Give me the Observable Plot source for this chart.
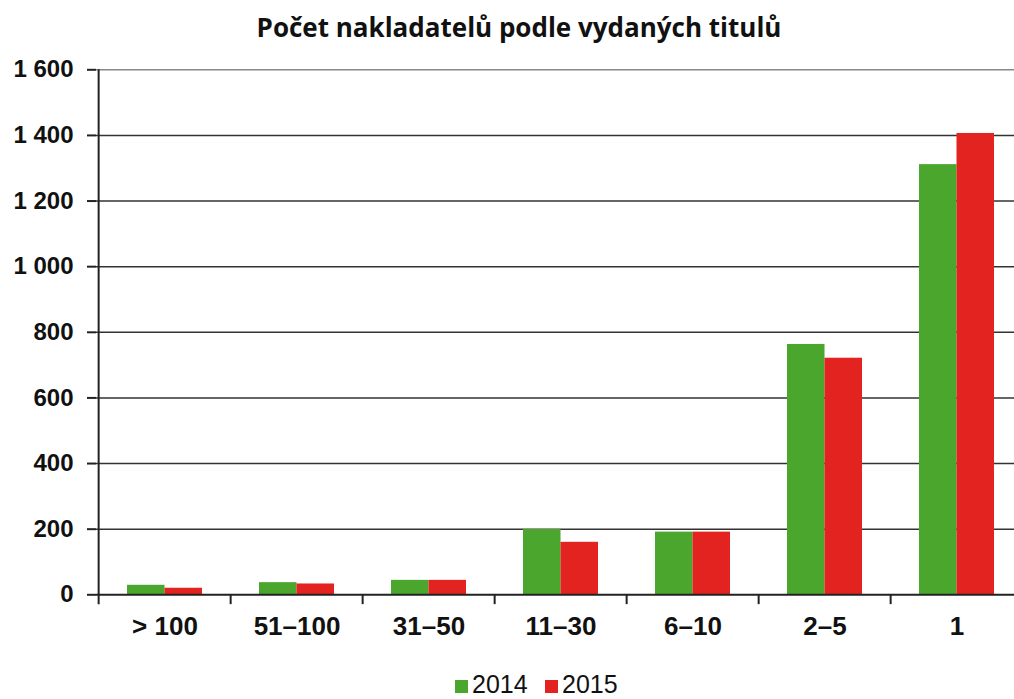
<!DOCTYPE html>
<html>
<head>
<meta charset="utf-8">
<script src="https://cdn.jsdelivr.net/npm/d3@7"></script>
<script src="https://cdn.jsdelivr.net/npm/@observablehq/plot@0.6"></script>
<style>
  html, body { margin: 0; padding: 0; background: #fff; }
  #wrap { width: 1014px; height: 699px; overflow: hidden; }
  #title { height: 50px; font-family: "Open Sans", "Noto Sans", sans-serif; font-weight: 700;
           font-size: 26px; text-align: center; line-height: 55px; color: #111; padding-left: 24px; box-sizing: border-box; }
  #legend { height: 39px; position: relative; font-family: "Liberation Sans", Arial, sans-serif; font-size: 25px; line-height: 25px; color: #111; }
  .item { position: absolute; top: 12px; height: 25px; display: flex; align-items: center; }
  .sw { width: 13px; height: 13px; margin-right: 4px; margin-top: 3px; }
</style>
</head>
<body>
<div id="wrap">
  <div id="title">Počet nakladatelů podle vydaných titulů</div>
  <div id="chart"></div>
  <div id="legend"></div>
</div>
<script>
const categories = ["> 100", "51–100", "31–50", "11–30", "6–10", "2–5", "1"];
const values2014 = [29, 37, 44, 199, 191, 763, 1311];
const values2015 = [20, 33, 44, 160, 191, 721, 1406];
const years = ["2014", "2015"];
const colors = ["#4aa62d", "#e32320"];
const yTicks = [0, 200, 400, 600, 800, 1000, 1200, 1400, 1600];

const rows2014 = categories.map((c, i) => ({category: c, value: values2014[i]}));
const rows2015 = categories.map((c, i) => ({category: c, value: values2015[i]}));
const boundaries = categories.map((c, i) => ({category: c, top: i === 0 ? 1600 : 0}));

const fmt = d => d3.format(",")(d).replace(/,/g, " ");

const xRange = [96, 1025];
const pIn = 0.435;
const step = (xRange[1] - xRange[0]) / categories.length;
const half = step * (1 - pIn) / 2;

const chart = Plot.plot({
  width: 1014,
  height: 610,
  marginTop: 19.3,
  marginBottom: 65.7,
  marginLeft: 96,
  marginRight: 0,
  style: {fontFamily: "'Liberation Sans', Arial, sans-serif", fontWeight: "bold", fontSize: "24px", color: "#111", background: "#fff"},
  x: {domain: categories, range: xRange, paddingInner: pIn, paddingOuter: pIn / 2, label: null},
  y: {domain: [0, 1600], label: null},
  marks: [
    Plot.ruleY(yTicks.filter(d => d > 0 && d < 1600), {stroke: "#333", strokeWidth: 1.6}),
    Plot.ruleY([1600], {stroke: "#888", strokeWidth: 1.6}),
    Plot.barY(rows2014, {x: "category", y: "value", fill: colors[0], insetRight: half}),
    Plot.barY(rows2015, {x: "category", y: "value", fill: colors[1], insetLeft: half}),
    Plot.ruleY([0], {stroke: "#222", strokeWidth: 2}),
    Plot.ruleX(boundaries, {x: "category", dx: -step / 2, y1: -30, y2: "top", stroke: "#222", strokeWidth: 2}),
    Plot.axisY({ticks: yTicks, tickSize: 9, tickPadding: 14, tickFormat: fmt, stroke: "#222", strokeWidth: 2, fontSize: 24, label: null}),
    Plot.axisX({tickSize: 0, tickPadding: 22, fontSize: 26, label: null})
  ]
});
document.getElementById("chart").appendChild(chart);

const legend = document.getElementById("legend");
const lefts = [455, 545];
years.forEach((y, i) => {
  const it = document.createElement("div");
  it.className = "item";
  it.style.left = lefts[i] + "px";
  const sw = document.createElement("div");
  sw.className = "sw";
  sw.style.background = colors[i];
  it.appendChild(sw);
  const t = document.createElement("span");
  t.textContent = y;
  it.appendChild(t);
  legend.appendChild(it);
});
</script>
</body>
</html>
